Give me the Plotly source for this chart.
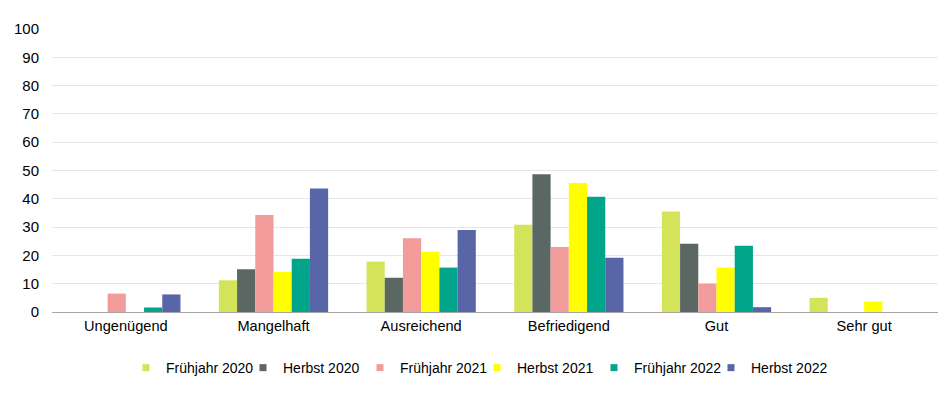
import plotly.graph_objects as go

categories = ["Ungenügend", "Mangelhaft", "Ausreichend", "Befriedigend", "Gut", "Sehr gut"]
series_names = ["Frühjahr 2020", "Herbst 2020", "Frühjahr 2021", "Herbst 2021", "Frühjahr 2022", "Herbst 2022"]

fruehjahr_2020 = [0, 11.2, 17.8, 30.8, 35.5, 5.0]
herbst_2020 = [0, 15.1, 12.1, 48.7, 24.1, 0]
fruehjahr_2021 = [6.5, 34.3, 26.1, 23.0, 10.0, 0]
herbst_2021 = [0, 14.2, 21.3, 45.6, 15.7, 3.7]
fruehjahr_2022 = [1.6, 18.8, 15.7, 40.7, 23.4, 0]
herbst_2022 = [6.2, 43.6, 29.0, 19.2, 1.7, 0]

y_ticks = [0, 10, 20, 30, 40, 50, 60, 70, 80, 90, 100]

colors = ["#D4E45A", "#5B6762", "#F29B9B", "#FFFF00", "#00A58A", "#5865A6"]
all_values = [fruehjahr_2020, herbst_2020, fruehjahr_2021, herbst_2021, fruehjahr_2022, herbst_2022]

fig = go.Figure()
for name, vals, col in zip(series_names, all_values, colors):
    fig.add_trace(go.Bar(x=categories, y=vals, name=name, legendgroup=name, showlegend=False,
                         marker=dict(color=col, line=dict(width=0))))
# small square legend keys
for name, col in zip(series_names, colors):
    fig.add_trace(go.Scatter(x=[None], y=[None], mode="markers", name=name, legendgroup=name,
                             marker=dict(symbol="square", size=7, color=col)))

fig.update_layout(
    width=944, height=390,
    margin=dict(l=44, r=14, t=21, b=86, autoexpand=False),
    paper_bgcolor="white", plot_bgcolor="white",
    barmode="group", bargap=0.26, bargroupgap=0,
    font=dict(family="Liberation Sans, Arial, sans-serif", size=14, color="#000000"),
    xaxis=dict(showgrid=False, showline=True, linecolor="#A6A6A6", linewidth=1,
               ticks="", tickfont=dict(size=14.6), automargin=False),
    yaxis=dict(range=[0, 100], tickvals=y_ticks, showgrid=True, gridcolor="#E6E6E6",
               gridwidth=1, zeroline=False, showline=False, ticks="",
               tickfont=dict(size=15), ticklabelstandoff=12, automargin=False),
    legend=dict(orientation="h", x=0.0835, xanchor="left", y=-0.198, yanchor="middle",
                font=dict(size=14), entrywidth=72, itemwidth=30, traceorder="normal"),
)

fig.write_html("out.html")
